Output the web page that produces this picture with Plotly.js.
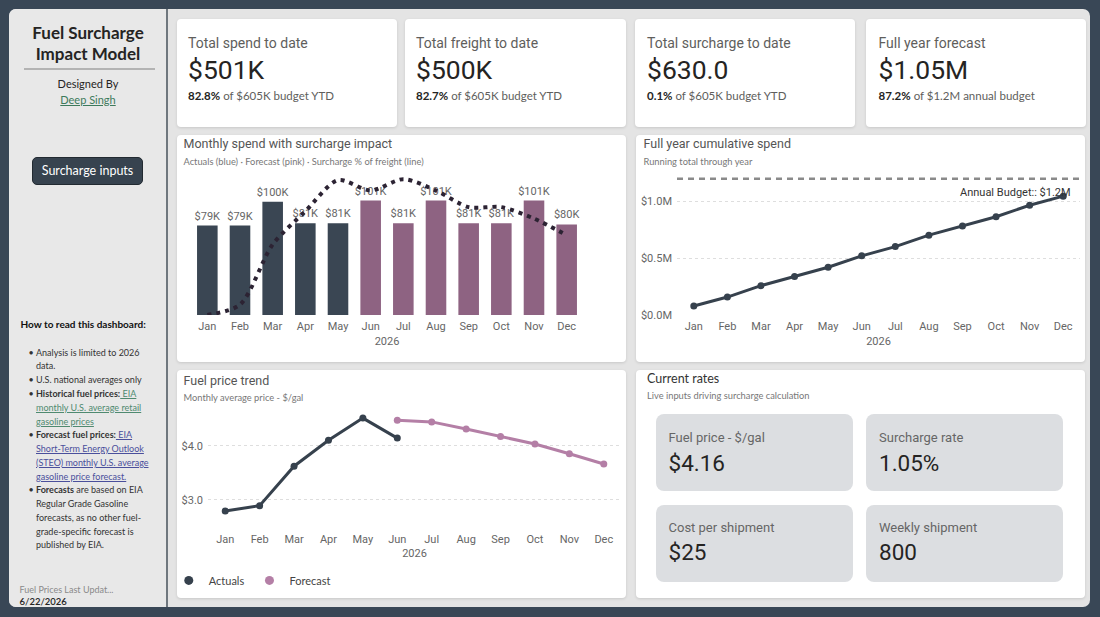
<!DOCTYPE html>
<html><head><meta charset="utf-8">
<script src="https://cdn.plot.ly/plotly-3.0.1.min.js"></script>
<style>
html,body{margin:0;padding:0;}
body{width:1100px;height:617px;background:#394756;position:relative;overflow:hidden;font-family:Lato,"Noto Sans",sans-serif;}
#main{position:absolute;left:9px;top:9px;width:1081px;height:598px;background:#e4e4e4;border-radius:7px;}
#side{position:absolute;left:9px;top:9px;width:157px;height:598px;background:#e8e8e8;border-right:2px solid #6f777e;border-radius:7px 0 0 7px;}
.card{position:absolute;background:#fff;border-radius:4px;box-shadow:0 1px 3px rgba(0,0,0,0.13);}
.tile{position:absolute;background:#dcdee1;border-radius:8px;}
.t{position:absolute;white-space:nowrap;line-height:20px;height:20px;}
.chart{position:absolute;}
a{text-decoration:underline;}
#btn{position:absolute;left:32px;top:157px;width:109px;height:26px;background:#37434f;border:1px solid #222a31;border-radius:5px;color:#fff;font-size:12.5px;line-height:26px;text-align:center;font-family:Lato,sans-serif;}
</style>
</head><body>
<div id="main"></div>
<div id="side"></div>
<div id="btn">Surcharge inputs</div>
<div class="card" style="left:177px;top:19px;width:220px;height:108px"></div>
<div class="card" style="left:405px;top:19px;width:221px;height:108px"></div>
<div class="card" style="left:635px;top:19px;width:220px;height:108px"></div>
<div class="card" style="left:866px;top:19px;width:220px;height:108px"></div>
<div class="card" style="left:177px;top:135px;width:449px;height:227px"></div>
<div class="card" style="left:636px;top:135px;width:449px;height:227px"></div>
<div class="card" style="left:177px;top:370px;width:449px;height:228px"></div>
<div class="card" style="left:636px;top:370px;width:449px;height:228px"></div>
<div class="tile" style="left:656px;top:414px;width:197px;height:77px"></div>
<div class="tile" style="left:866px;top:414px;width:197px;height:77px"></div>
<div class="tile" style="left:656px;top:505px;width:197px;height:77px"></div>
<div class="tile" style="left:866px;top:505px;width:197px;height:77px"></div>
<div id="c1" class="chart" style="left:177px;top:135px;width:449px;height:227px"></div>
<div id="c2" class="chart" style="left:636px;top:135px;width:449px;height:227px"></div>
<div id="c3" class="chart" style="left:177px;top:370px;width:449px;height:228px"></div>
<script>
// ---------- DATA ----------
const months = ['Jan','Feb','Mar','Apr','May','Jun','Jul','Aug','Sep','Oct','Nov','Dec'];
const yearLabel = '2026';
const spendActualK = [79, 79, 100, 81, 81];
const spendForecastK = [101, 81, 101, 81, 81, 101, 80];
const surchargePct = [0.00, 0.10, 0.68, 1.00, 1.30, 1.20, 1.31, 1.20, 1.04, 1.04, 0.93, 0.77];
const cumulativeSpendM = [0.079, 0.158, 0.258, 0.339, 0.420, 0.521, 0.602, 0.703, 0.784, 0.865, 0.966, 1.046];
const annualBudgetM = 1.2;
const fuelActual = [2.79, 2.89, 3.62, 4.10, 4.51, 4.14];
const fuelForecast = [4.47, 4.44, 4.31, 4.17, 4.03, 3.85, 3.66];
const kpiTitles = ['Total spend to date','Total freight to date','Total surcharge to date','Full year forecast'];
const kpiValues = ['$501K','$500K','$630.0','$1.05M'];
const kpiPcts = ['82.8%','82.7%','0.1%','87.2%'];
const kpiNotes = ['of $605K budget YTD','of $605K budget YTD','of $605K budget YTD','of $1.2M annual budget'];
const rateLabels = ['Fuel price - $/gal','Surcharge rate','Cost per shipment','Weekly shipment'];
const rateValues = ['$4.16','1.05%','$25','800'];

// ---------- TEXT HELPERS ----------
function T(x, cy, html, css, center){
  const d=document.createElement('div'); d.className='t';
  d.style.left=x+'px'; d.style.top=(cy-10)+'px';
  if(center) d.style.transform='translateX(-50%)';
  d.style.cssText += ';'+(css||'');
  d.innerHTML=html; document.body.appendChild(d); return d;
}
const DIN="font-family:Roboto,sans-serif;";
const SEG="font-family:Lato,'Noto Sans',sans-serif;";

// sidebar
T(88,32.5,'Fuel Surcharge',SEG+'font-size:17px;font-weight:700;color:#252423;',true);
T(88,53.5,'Impact Model',SEG+'font-size:17px;font-weight:700;color:#252423;',true);
const hr=document.createElement('div');hr.style.cssText='position:absolute;left:24px;top:68px;width:131px;height:2px;background:#b3b3b3;';document.body.appendChild(hr);
T(88,83.5,'Designed By',SEG+'font-size:11px;color:#252423;',true);
T(88,99.5,'<a style="color:#3d7a5c">Deep Singh</a>',SEG+'font-size:11px;',true);
T(20.5,324,'How to read this dashboard:',SEG+'font-size:10px;font-weight:700;color:#111;');
const G='color:#4f8a70', B='color:#4a4f9c';
const sideLines = [
 ['• ','Analysis is limited to 2026'],
 ['','data.'],
 ['• ','U.S. national averages only'],
 ['• ','<b>Historical fuel prices:</b><a style="'+G+'"> EIA </a>'],
 ['','<a style="'+G+'">monthly U.S. average retail </a>'],
 ['','<a style="'+G+'">gasoline prices </a>'],
 ['• ','<b>Forecast fuel prices:</b><a style="'+B+'"> EIA </a>'],
 ['','<a style="'+B+'">Short-Term Energy Outlook </a>'],
 ['','<a style="'+B+'">(STEO) monthly U.S. average </a>'],
 ['','<a style="'+B+'">gasoline price forecast.</a>'],
 ['• ','<b>Forecasts</b> are based on EIA'],
 ['','Regular Grade Gasoline'],
 ['','forecasts, as no other fuel-'],
 ['','grade-specific forecast is'],
 ['','published by EIA.']
];
sideLines.forEach((l,i)=>{
  const cy=352.7+i*13.76;
  if(l[0]) T(28.5,cy,'•',SEG+'font-size:9px;color:#333;');
  T(36,cy,l[1],SEG+'font-size:9px;color:#333;');
});
T(19.5,589.5,'Fuel Prices Last Updat...',SEG+'font-size:9px;color:#8a8a8a;');
T(19.5,601.5,'6/22/2026',SEG+'font-size:9.5px;color:#252423;font-weight:600;');

// KPI cards
const kpiX=[188,416,647,878.5];
kpiTitles.forEach((t,i)=>{
  T(kpiX[i],42.5,t,DIN+'font-size:14px;color:#605e5c;');
  T(kpiX[i],70,kpiValues[i],DIN+'font-size:26.5px;font-weight:400;color:#252423;');
  T(kpiX[i],95.5,'<b style="color:#252423;font-weight:700">'+kpiPcts[i]+'</b> <span style="color:#605e5c">'+kpiNotes[i]+'</span>',SEG+'font-size:11.5px;');
});

// chart titles
T(183.5,144,'Monthly spend with surcharge impact',DIN+'font-size:12.5px;color:#555;');
T(183.5,161.5,'Actuals (blue) · Forecast (pink) · Surcharge % of freight (line)',SEG+'font-size:9.3px;color:#777;');
T(643.5,144,'Full year cumulative spend',DIN+'font-size:12.5px;color:#555;');
T(643.5,161.5,'Running total through year',SEG+'font-size:9.3px;color:#777;');
T(183.5,380.5,'Fuel price trend',DIN+'font-size:12.5px;color:#555;');
T(183.5,398,'Monthly average price - $/gal',SEG+'font-size:9.3px;color:#777;');
T(647,378.7,'Current rates',SEG+'font-size:12.5px;color:#333;');
T(647,395.7,'Live inputs driving surcharge calculation',SEG+'font-size:9.3px;color:#777;');

// rate tiles
const rateX=[668.5,879,668.5,879], rateYl=[438,438,527.5,527.5], rateYv=[462.5,462.5,551.5,551.5];
rateLabels.forEach((t,i)=>{
  T(rateX[i],rateYl[i],t,DIN+'font-size:13px;color:#666;');
  T(rateX[i],rateYv[i],rateValues[i],DIN+'font-size:22.5px;font-weight:400;color:#252423;');
});

// ---------- CHARTS ----------
const tickF={family:'Roboto, sans-serif',size:11,color:'#666'};
const cfg={staticPlot:true,displayModeBar:false};
const actualColor='#3a4653', forecastBar='#8e6382', lineDark='#2c2333';
const catRange=[-0.5, months.length-0.5];

// Chart 1: monthly spend
const fmtK=v=>'$'+v+'K';
Plotly.newPlot('c1',[
  {type:'bar',x:months.slice(0,spendActualK.length),y:spendActualK,marker:{color:actualColor},
   text:spendActualK.map(fmtK),textposition:'outside',textfont:tickF,cliponaxis:false,constraintext:'none'},
  {type:'bar',x:months.slice(spendActualK.length),y:spendForecastK,marker:{color:forecastBar},
   text:spendForecastK.map(fmtK),textposition:'outside',textfont:tickF,cliponaxis:false,constraintext:'none'},
  {type:'scatter',mode:'lines',x:months,y:surchargePct,yaxis:'y2',cliponaxis:false,
   line:{color:lineDark,width:4,dash:'4px,5px',shape:'spline',smoothing:0.8}}
],{
  width:449,height:227,margin:{l:14,r:43,t:40,b:47,autoexpand:false},
  paper_bgcolor:'rgba(0,0,0,0)',plot_bgcolor:'rgba(0,0,0,0)',
  showlegend:false,barmode:'overlay',bargap:0.37,
  xaxis:{type:'category',categoryorder:'array',categoryarray:months,range:catRange,tickfont:tickF,ticks:'',showgrid:false,zeroline:false,showline:false,
         ticklabelstandoff:3,title:{text:yearLabel,font:tickF,standoff:5}},
  yaxis:{range:[0,123.6],visible:false},
  yaxis2:{range:[0,1.35],overlaying:'y',visible:false}
},cfg);

// Chart 2: cumulative
Plotly.newPlot('c2',[
  {type:'scatter',mode:'lines+markers',x:months,y:cumulativeSpendM,
   line:{color:'#36414d',width:3},marker:{color:'#36414d',size:7}}
],{
  width:449,height:227,margin:{l:41,r:5,t:38,b:47,autoexpand:false},
  paper_bgcolor:'rgba(0,0,0,0)',plot_bgcolor:'rgba(0,0,0,0)',showlegend:false,
  xaxis:{type:'category',categoryorder:'array',categoryarray:months,range:catRange,tickfont:tickF,ticks:'',showgrid:false,zeroline:false,showline:false,
         ticklabelstandoff:3,title:{text:yearLabel,font:tickF,standoff:5}},
  yaxis:{range:[0,1.25],tick0:0,dtick:0.5,tickformat:'.1f',tickprefix:'$',ticksuffix:'M',tickfont:tickF,
         showgrid:true,gridcolor:'#dedede',griddash:'dot',gridwidth:1,zeroline:false,showline:false,ticks:'',ticklabelstandoff:4},
  shapes:[{type:'line',xref:'paper',x0:0,x1:1,yref:'y',y0:annualBudgetM,y1:annualBudgetM,
           line:{color:'#8a8a8a',width:2.5,dash:'6px,5px'}}],
  annotations:[{xref:'paper',x:0.983,xanchor:'right',yref:'y',y:annualBudgetM,yanchor:'middle',yshift:-13.5,
           text:'Annual Budget:: $'+annualBudgetM.toFixed(1)+'M',showarrow:false,
           font:{family:'Roboto, sans-serif',size:11,color:'#333'}}]
},cfg);

// Chart 3: fuel price
const fuelActualColor='#36414d', fuelForecastColor='#b47fa6';
Plotly.newPlot('c3',[
  {type:'scatter',mode:'lines+markers',x:months.slice(0,fuelActual.length),y:fuelActual,showlegend:false,
   line:{color:fuelActualColor,width:3},marker:{color:fuelActualColor,size:7}},
  {type:'scatter',mode:'lines+markers',x:months.slice(months.length-fuelForecast.length),y:fuelForecast,showlegend:false,
   line:{color:fuelForecastColor,width:3},marker:{color:fuelForecastColor,size:7}},
  {type:'scatter',mode:'markers',x:[null],y:[null],name:'Actuals',marker:{color:fuelActualColor,size:9}},
  {type:'scatter',mode:'markers',x:[null],y:[null],name:'Forecast',marker:{color:fuelForecastColor,size:9}}
],{
  width:449,height:228,margin:{l:31,r:5,t:40,b:68,autoexpand:false},
  paper_bgcolor:'rgba(0,0,0,0)',plot_bgcolor:'rgba(0,0,0,0)',
  showlegend:true,
  legend:{orientation:'h',x:-0.095,xanchor:'left',y:-0.42,yanchor:'middle',itemwidth:30,
          font:{family:'Lato, sans-serif',size:11,color:'#444'},bgcolor:'rgba(0,0,0,0)',tracegroupgap:0},
  xaxis:{type:'category',categoryorder:'array',categoryarray:months,range:catRange,tickfont:tickF,ticks:'',showgrid:false,zeroline:false,showline:false,
         ticklabelstandoff:1,title:{text:yearLabel,font:tickF,standoff:4}},
  yaxis:{range:[2.44,4.66],tick0:0,dtick:1,tickformat:'.1f',tickprefix:'$',tickfont:tickF,
         showgrid:true,gridcolor:'#dedede',griddash:'dot',gridwidth:1,zeroline:false,showline:false,ticks:'',ticklabelstandoff:4}
},cfg);
</script>
</body></html>
